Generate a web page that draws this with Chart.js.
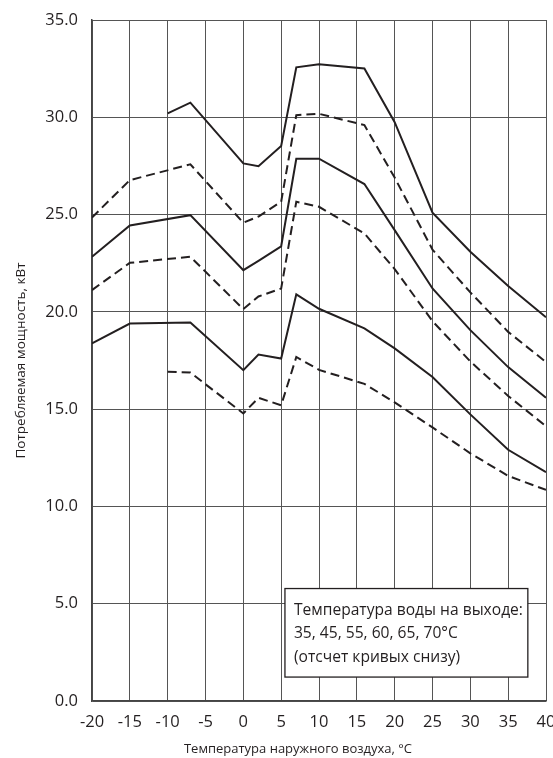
<!DOCTYPE html>
<html lang="ru">
<head>
<meta charset="utf-8">
<script src="https://cdn.jsdelivr.net/npm/chart.js@4.4.1/dist/chart.umd.min.js"></script>
<style>
  html, body { margin: 0; padding: 0; background: #fff; }
  #wrap { width: 553px; height: 758px; position: relative; }
</style>
</head>
<body>
<div id="wrap"><canvas id="powerChart"></canvas></div>
<script>
// Температура наружного воздуха, °C (точки кривых)
const tempsLong = [-20, -15, -7, 0, 2, 5, 7, 10, 16, 20, 25, 30, 35, 40];
const tempsShort = [-10, -7, 0, 2, 5, 7, 10, 16, 20, 25, 30, 35, 40];

// Потребляемая мощность, кВт — по температуре воды на выходе
const power35 = [16.92, 16.88, 14.78, 15.58, 15.2, 17.68, 17.02, 16.3, 15.35, 14.06, 12.73, 11.57, 10.85];
const power45 = [18.38, 19.4, 19.45, 17.0, 17.81, 17.6, 20.9, 20.16, 19.15, 18.12, 16.65, 14.73, 12.91, 11.76];
const power55 = [21.12, 22.52, 22.83, 20.14, 20.79, 21.2, 25.66, 25.4, 24.03, 22.2, 19.52, 17.45, 15.68, 14.12];
const power60 = [22.83, 24.44, 24.97, 22.14, 22.62, 23.37, 27.87, 27.87, 26.57, 24.2, 21.2, 19.06, 17.16, 15.59];
const power65 = [24.85, 26.77, 27.58, 24.58, 24.9, 25.66, 30.11, 30.18, 29.6, 26.9, 23.2, 21.0, 18.97, 17.42];
const power70 = [30.2, 30.75, 27.63, 27.49, 28.53, 32.57, 32.72, 32.51, 29.75, 25.1, 23.09, 21.33, 19.72];

const xTitle = 'Температура наружного воздуха, °C';
const yTitle = 'Потребляемая мощность, кВт';
const noteLines = [
    'Температура воды на выходе:',
    '35, 45, 55, 60, 65, 70°C',
    '(отсчет кривых снизу)'
];

const FONT = '"Open Sans", "Noto Sans", sans-serif';
const INK = '#231f20';

function toPoints(xs, ys) {
    return ys.map((y, i) => ({ x: xs[i], y: y }));
}

function curve(label, xs, ys, dashed) {
    return {
        label: label,
        data: toPoints(xs, ys),
        borderColor: INK,
        borderWidth: 2,
        borderDash: dashed ? [9, 5] : [],
        pointRadius: 0,
        tension: 0,
        fill: false
    };
}

// Подписи осей и рамка с пояснением
const notePlugin = {
    id: 'noteBox',
    afterDraw(chart) {
        const ctx = chart.ctx;
        const xs = chart.scales.x;
        const ys = chart.scales.y;
        ctx.save();
        ctx.fillStyle = INK;
        ctx.font = '13px ' + FONT;
        ctx.textAlign = 'center';
        ctx.textBaseline = 'middle';
        ctx.fillText(xTitle, 298, 749);
        ctx.translate(21, (ys.top + ys.bottom) / 2);
        ctx.rotate(-Math.PI / 2);
        ctx.font = '13.5px ' + FONT;
        ctx.fillText(yTitle, 0, 0);
        ctx.restore();

        const left = xs.getPixelForValue(5.5);
        const right = xs.getPixelForValue(37.6);
        const top = ys.getPixelForValue(5.78);
        const bottom = ys.getPixelForValue(1.23);
        ctx.save();
        ctx.fillStyle = '#fff';
        ctx.fillRect(left, top, right - left, bottom - top);
        ctx.strokeStyle = INK;
        ctx.lineWidth = 1.3;
        ctx.strokeRect(left, top, right - left, bottom - top);
        ctx.fillStyle = INK;
        ctx.font = '15.6px ' + FONT;
        ctx.textBaseline = 'middle';
        ctx.textAlign = 'left';
        noteLines.forEach((t, i) => {
            ctx.fillText(t, left + 9, top + 22 + i * 23.4);
        });
        ctx.restore();
    }
};

const config = {
    type: 'line',
    data: {
        datasets: [
            curve('35°C', tempsShort, power35, true),
            curve('45°C', tempsLong, power45, false),
            curve('55°C', tempsLong, power55, true),
            curve('60°C', tempsLong, power60, false),
            curve('65°C', tempsLong, power65, true),
            curve('70°C', tempsShort, power70, false)
        ]
    },
    options: {
        responsive: true,
        maintainAspectRatio: false,
        animation: false,
        layout: { padding: { top: 20, right: 7, left: 0, bottom: 0 } },
        plugins: {
            legend: { display: false },
            tooltip: { enabled: false }
        },
        scales: {
            x: {
                type: 'linear',
                min: -20,
                max: 40,
                afterFit(scale) {
                    scale.height = 57;
                    scale.paddingLeft = 0;
                    scale.paddingRight = 0;
                },
                ticks: {
                    stepSize: 5,
                    padding: 11,
                    color: INK,
                    font: { family: FONT, size: 16.5 }
                },
                grid: { color: '#555', lineWidth: 1, drawTicks: false },
                border: { color: '#444', width: 1.5 }
            },
            y: {
                min: 0,
                max: 35,
                afterFit(scale) {
                    scale.width = 92;
                    scale.paddingTop = 0;
                    scale.paddingBottom = 0;
                },
                ticks: {
                    stepSize: 5,
                    padding: 14,
                    color: INK,
                    font: { family: FONT, size: 16.5 },
                    callback: (v) => Number(v).toFixed(1)
                },
                grid: { color: '#555', lineWidth: 1, drawTicks: false },
                border: { color: '#444', width: 1.5 }
            }
        }
    },
    plugins: [notePlugin]
};

const powerChart = new Chart(document.getElementById('powerChart'), config);
</script>
</body>
</html>
